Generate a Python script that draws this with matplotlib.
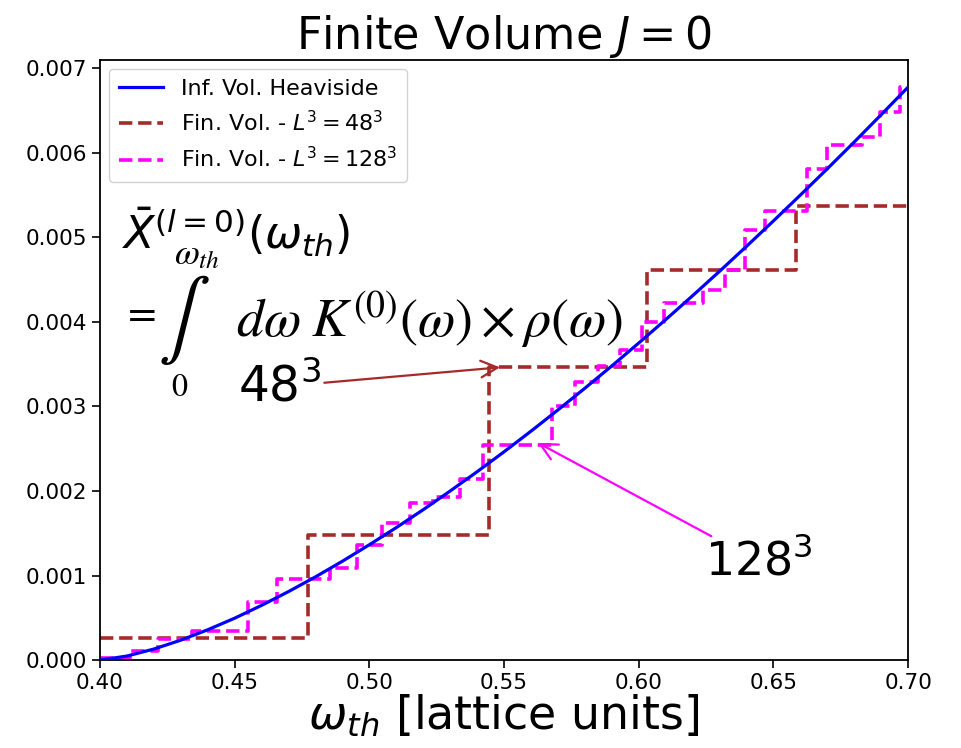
import matplotlib
matplotlib.use("Agg")
import matplotlib.pyplot as plt
import numpy as np

# ---------------- data ----------------
# Infinite volume (Heaviside) curve, y in units of 1e-3
inf_x = [0.40, 0.41, 0.42, 0.43, 0.44, 0.45, 0.46, 0.47, 0.48, 0.49, 0.50,
         0.51, 0.52, 0.53, 0.54, 0.55, 0.56, 0.57, 0.58, 0.59, 0.60,
         0.61, 0.62, 0.63, 0.64, 0.65, 0.66, 0.67, 0.68, 0.69, 0.70]
inf_y = [0.000, 0.047, 0.130, 0.235, 0.358, 0.495, 0.647, 0.810, 0.984, 1.169, 1.364,
         1.567, 1.779, 2.000, 2.228, 2.464, 2.708, 2.959, 3.216, 3.480, 3.751,
         4.028, 4.311, 4.600, 4.895, 5.196, 5.502, 5.813, 6.130, 6.453, 6.780]

# Finite volume L^3 = 48^3 (step edges, step heights in 1e-3)
fv48_x = [0.400, 0.4772, 0.5444, 0.6030, 0.6584, 0.700]
fv48_y = [0.265, 1.475, 3.463, 4.615, 5.370, 5.370]

# Finite volume L^3 = 128^3
fv128_x = [0.400, 0.4111, 0.4217, 0.4340, 0.4551, 0.4656, 0.4854, 0.4956, 0.5048,
           0.5151, 0.5236, 0.5335, 0.5423, 0.5677, 0.5764, 0.5850, 0.5931, 0.6011,
           0.6092, 0.6240, 0.6321, 0.6395, 0.6469, 0.6625, 0.6699, 0.6830, 0.6896,
           0.6971, 0.700]
fv128_y = [0.025, 0.107, 0.249, 0.344, 0.691, 0.963, 1.090, 1.360, 1.620,
           1.860, 1.930, 2.140, 2.550, 3.000, 3.290, 3.475, 3.670, 4.000,
           4.220, 4.380, 4.620, 5.090, 5.310, 5.810, 6.100, 6.190, 6.480,
           6.780, 6.780]

xticks = [0.40, 0.45, 0.50, 0.55, 0.60, 0.65, 0.70]
yticks = [0.000, 0.001, 0.002, 0.003, 0.004, 0.005, 0.006, 0.007]

scale = 1e-3

# ---------------- figure ----------------
fig = plt.figure(figsize=(9.61, 7.48), dpi=100)
ax = fig.add_axes([0.104, 0.1176, 0.841, 0.8022])

ax.plot(inf_x, np.array(inf_y) * scale, color='#0000ff', lw=2.3,
        label='Inf. Vol. Heaviside', zorder=3)
ax.step(fv48_x, np.array(fv48_y) * scale, where='post', color='#a52a2a',
        lw=2.6, ls='--', label=r'Fin. Vol. - $L^3 = 48^3$', zorder=2)
ax.step(fv128_x, np.array(fv128_y) * scale, where='post', color='#ff00ff',
        lw=2.6, ls='--', label=r'Fin. Vol. - $L^3 = 128^3$', zorder=2)

ax.set_xlim(0.40, 0.70)
ax.set_ylim(0.0, 0.0071)
ax.set_xticks(xticks)
ax.set_xticklabels([f"{v:.2f}" for v in xticks])
ax.set_yticks(yticks)
ax.set_yticklabels([f"{v:.3f}" for v in yticks])
ax.tick_params(labelsize=15.5, width=1.2, length=6)
for s in ax.spines.values():
    s.set_linewidth(1.3)

ax.set_title(r'Finite Volume $J = 0$', fontsize=32, pad=8)
ax.set_xlabel(r'$\omega_{th}$ [lattice units]', fontsize=33, labelpad=0)

ax.legend(loc='upper left', fontsize=16, handlelength=2.0,
          borderpad=0.45, labelspacing=0.5, framealpha=0.9,
          borderaxespad=0.4)

# ---------------- formula ----------------
ax.text(0.027, 0.683, r'$\bar{X}^{(l=0)}(\omega_{th})$', transform=ax.transAxes,
        fontsize=32, ha='left', va='baseline')
ax.text(0.046, 0.575, r'$=$', transform=ax.transAxes, fontsize=28,
        ha='center', va='center')
ax.text(0.104, 0.566, r'$\int$', transform=ax.transAxes, fontsize=56,
        ha='center', va='center', math_fontfamily='stix')
ax.text(0.120, 0.676, r'$\omega_{th}$', transform=ax.transAxes, fontsize=26,
        ha='center', va='center', math_fontfamily='stix')
ax.text(0.099, 0.455, r'$0$', transform=ax.transAxes, fontsize=23,
        ha='center', va='center', math_fontfamily='stix')
ax.text(0.168, 0.566, r'$d\omega\; K^{(0)}(\omega) \times \rho(\omega)$',
        transform=ax.transAxes, fontsize=39, ha='left', va='center',
        math_fontfamily='stix')

# ---------------- annotations ----------------
ax.annotate(r'$48^3$', xy=(0.5485, 3.463e-3), xytext=(0.4668, 3.235e-3),
            fontsize=35, ha='center', va='center',
            arrowprops=dict(arrowstyle='->', color='#a52a2a', lw=1.6,
                            mutation_scale=30, shrinkA=0, shrinkB=0))
ax.annotate(r'$128^3$', xy=(0.5626, 2.57e-3), xytext=(0.6447, 1.16e-3),
            fontsize=33, ha='center', va='center',
            arrowprops=dict(arrowstyle='->', color='#ff00ff', lw=1.6,
                            mutation_scale=30, shrinkA=0, shrinkB=0))

fig.savefig('out.png', dpi=100)
